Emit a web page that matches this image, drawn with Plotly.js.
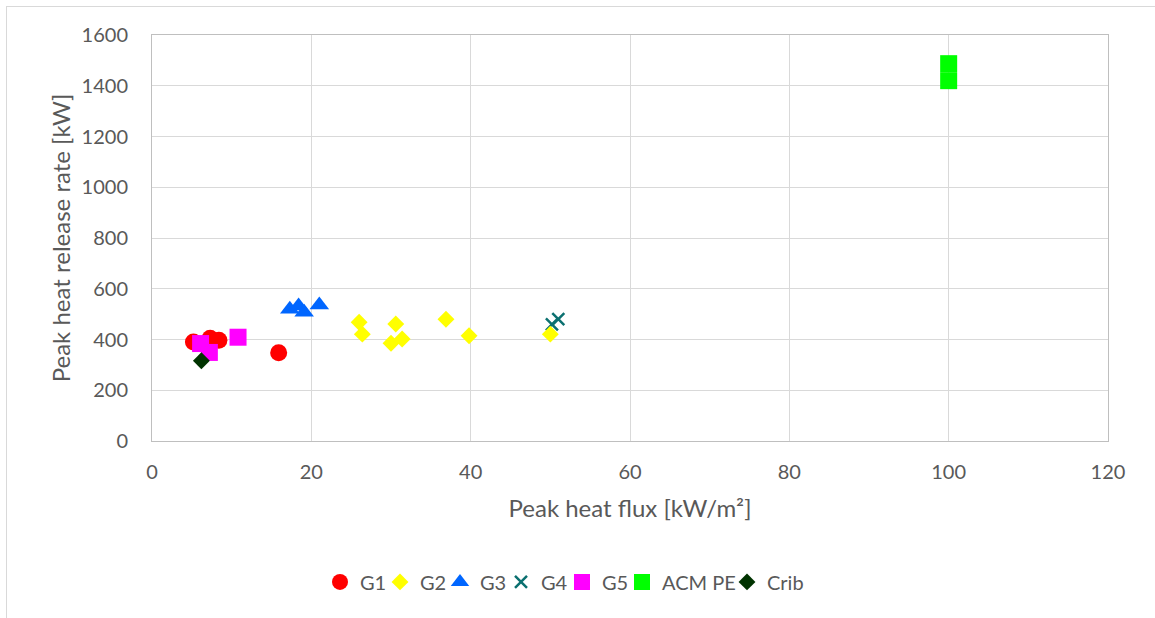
<!DOCTYPE html>
<html>
<head>
<meta charset="utf-8">
<script src="https://cdn.plot.ly/plotly-3.0.1.min.js"></script>
<style>
  html, body { margin: 0; padding: 0; background: #ffffff; overflow: hidden; }
  #frame { position: absolute; left: 6px; top: 6px; width: 1160px; height: 620px; border: 1px solid #d9d9d9; box-sizing: border-box; }
  #chart { position: absolute; left: 0; top: 0; width: 1155px; height: 618px; }
</style>
</head>
<body>
<div id="frame"></div>
<div id="chart"></div>
<script>
// Data
const seriesNames = ["G1", "G2", "G3", "G4", "G5", "ACM PE", "Crib"];

const g1X = [5.2, 7.3, 8.4, 15.9];
const g1Y = [390, 405, 397, 348];

const g2X = [26.0, 26.4, 30.6, 30.0, 31.4, 36.9, 39.8, 50.0];
const g2Y = [468, 421, 461, 385, 402, 480, 415, 421];

const g3X = [17.3, 18.4, 19.1, 21.0];
const g3Y = [519, 532, 507, 536];

const g4X = [50.2, 51.0];
const g4Y = [460, 480];

const g5X = [6.1, 7.2, 10.8];
const g5Y = [384, 349, 409];

const acmX = [100, 100];
const acmY = [1487, 1420];

const cribX = [6.2];
const cribY = [316];

const xTickVals = [0, 20, 40, 60, 80, 100, 120];
const yTickVals = [0, 200, 400, 600, 800, 1000, 1200, 1400, 1600];

const FONT = "Lato, 'Open Sans', sans-serif";
const TXT = "#595959";

// plot-area geometry (pixels) used to place one legend per series
const W = 1155, H = 618, ML = 152, MR = 47, MT = 35, MB = 177;
const plotW = W - ML - MR;
const legendSymbolPx = [340, 400, 460, 521, 582, 642, 747];
const legendIds = ["legend", "legend2", "legend3", "legend4", "legend5", "legend6", "legend7"];

const traces = [
  { name: seriesNames[3], x: g4X, y: g4Y, legend: legendIds[3],
    marker: { symbol: "x-thin", size: 12, color: "#0b7070", line: { color: "#0b7070", width: 2.5 } } },
  { name: seriesNames[0], x: g1X, y: g1Y, legend: legendIds[0],
    marker: { symbol: "circle", size: 17, color: "#ff0000" } },
  { name: seriesNames[1], x: g2X, y: g2Y, legend: legendIds[1],
    marker: { symbol: "diamond", size: 13, color: "#ffff00" } },
  { name: seriesNames[2], x: g3X, y: g3Y, legend: legendIds[2],
    marker: { symbol: "triangle-up", size: 17, color: "#0066ff" } },
  { name: seriesNames[4], x: g5X, y: g5Y, legend: legendIds[4],
    marker: { symbol: "square", size: 17, color: "#ff00ff" } },
  { name: seriesNames[5], x: acmX, y: acmY, legend: legendIds[5],
    marker: { symbol: "square", size: 17, color: "#00ff00" } },
  { name: seriesNames[6], x: cribX, y: cribY, legend: legendIds[6],
    marker: { symbol: "diamond", size: 13, color: "#003300" } }
].map(t => Object.assign({ type: "scatter", mode: "markers", hoverinfo: "x+y+name" }, t));

const layout = {
  width: W, height: H,
  margin: { l: ML, r: MR, t: MT, b: MB },
  paper_bgcolor: "rgba(0,0,0,0)",
  plot_bgcolor: "#ffffff",
  font: { family: FONT, color: TXT, size: 20 },
  showlegend: true,
  xaxis: {
    range: [0, 120], tickvals: xTickVals, ticktext: xTickVals.map(String),
    showgrid: true, gridcolor: "#d9d9d9", gridwidth: 1,
    showline: true, linecolor: "#bfbfbf", linewidth: 1, mirror: true,
    zeroline: false, ticks: "", ticklabelstandoff: 13,
    tickfont: { family: FONT, size: 20, color: TXT },
    title: { text: "Peak heat flux [kW/m²]", font: { family: FONT, size: 24, color: TXT }, standoff: 18 }
  },
  yaxis: {
    range: [0, 1600], tickvals: yTickVals, ticktext: yTickVals.map(String),
    showgrid: true, gridcolor: "#d9d9d9", gridwidth: 1,
    showline: true, linecolor: "#bfbfbf", linewidth: 1, mirror: true,
    zeroline: false, ticks: "", ticklabelstandoff: 19,
    tickfont: { family: FONT, size: 20, color: TXT },
    title: { text: "Peak heat release rate [kW]", font: { family: FONT, size: 24, color: TXT }, standoff: 4 }
  }
};

legendIds.forEach((id, i) => {
  layout[id] = {
    orientation: "h",
    x: (legendSymbolPx[i] - 20 - ML) / plotW, xanchor: "left",
    y: -0.347, yanchor: "middle",
    font: { family: FONT, size: 20, color: TXT },
    itemwidth: 30, bgcolor: "rgba(0,0,0,0)"
  };
});

Plotly.newPlot("chart", traces, layout, { displayModeBar: false, staticPlot: true });
</script>
</body>
</html>
